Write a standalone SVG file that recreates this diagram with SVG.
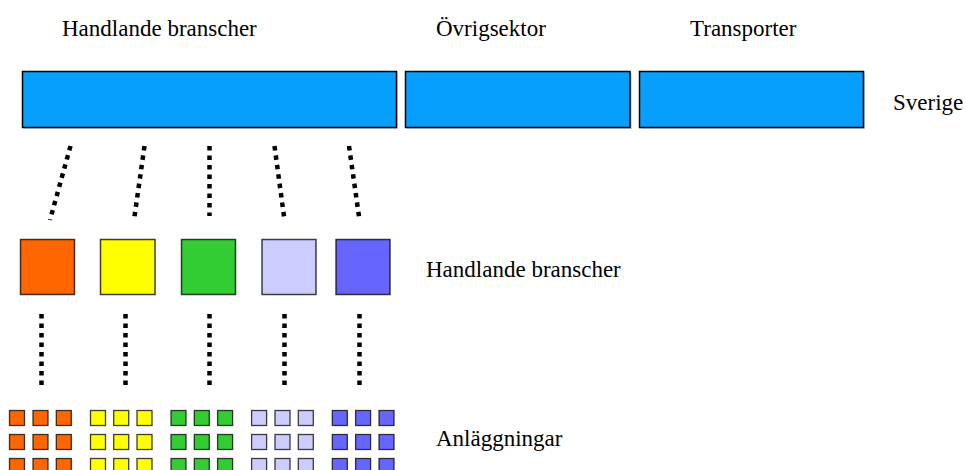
<svg xmlns="http://www.w3.org/2000/svg" width="966" height="470" viewBox="0 0 966 470">
<style>
text{font-family:"Liberation Serif","Times New Roman",serif;font-size:23px;fill:#000}
.big{fill:#079ffe;stroke:#000;stroke-width:1.5}
.sh{fill:#bbb;opacity:0.6}
.sq{stroke:#000;stroke-opacity:0.75;stroke-width:1.5}
.t{stroke:#000;stroke-opacity:0.75;stroke-width:1.3}
.o{fill:#ff6600}.y{fill:#ffff00}.g{fill:#33cc33}.l{fill:#ccccff}.b{fill:#6666ff}
.dot{stroke:#000;stroke-width:4.5;stroke-dasharray:4.5 5;fill:none}
</style>
<g id="labels">
<text x="62" y="36">Handlande branscher</text>
<text x="436" y="36">Övrigsektor</text>
<text x="690" y="36">Transporter</text>
<text x="893" y="110">Sverige</text>
<text x="426" y="277">Handlande branscher</text>
<text x="436" y="446">Anläggningar</text>
</g>
<g id="sverige">
<rect class="sh" x="24" y="73" width="374" height="56"/>
<rect class="big" x="22.5" y="71.5" width="374" height="56"/>
<rect class="sh" x="407" y="73" width="225" height="56"/>
<rect class="big" x="405.5" y="71.5" width="224.5" height="56"/>
<rect class="sh" x="641" y="73" width="224" height="56"/>
<rect class="big" x="639.5" y="71.5" width="224" height="56"/>
</g>
<g id="connectors">
<line class="dot" x1="70.5" y1="146" x2="50" y2="220"/>
<line class="dot" x1="144.5" y1="146" x2="134" y2="220"/>
<line class="dot" x1="209.5" y1="146" x2="209.5" y2="216"/>
<line class="dot" x1="274.5" y1="146" x2="284.5" y2="220"/>
<line class="dot" x1="349" y1="146" x2="359.5" y2="220"/>
<line class="dot" x1="41.5" y1="314" x2="41.5" y2="386"/>
<line class="dot" x1="125.5" y1="314" x2="125.5" y2="386"/>
<line class="dot" x1="209.5" y1="314" x2="209.5" y2="386"/>
<line class="dot" x1="284.5" y1="314" x2="284.5" y2="386"/>
<line class="dot" x1="359.5" y1="314" x2="359.5" y2="386"/>
</g>
<g id="branscher">
<rect class="sq o" x="20.5" y="239.5" width="54" height="55"/>
<rect class="sq y" x="100.5" y="239.5" width="54.5" height="55"/>
<rect class="sq g" x="181.5" y="239.5" width="54" height="55"/>
<rect class="sq l" x="262" y="239.5" width="54" height="55"/>
<rect class="sq b" x="336" y="239.5" width="54" height="55"/>
</g>
<g id="anlaggningar">
<g class="o">
<rect class="t" x="9.5" y="410.5" width="15" height="15"/><rect class="t" x="33" y="410.5" width="15" height="15"/><rect class="t" x="56.3" y="410.5" width="15" height="15"/>
<rect class="t" x="9.5" y="434.5" width="15" height="15"/><rect class="t" x="33" y="434.5" width="15" height="15"/><rect class="t" x="56.3" y="434.5" width="15" height="15"/>
<rect class="t" x="9.5" y="458.5" width="15" height="15"/><rect class="t" x="33" y="458.5" width="15" height="15"/><rect class="t" x="56.3" y="458.5" width="15" height="15"/>
</g>
<g class="y">
<rect class="t" x="90.5" y="410.5" width="15" height="15"/><rect class="t" x="113.7" y="410.5" width="15" height="15"/><rect class="t" x="137" y="410.5" width="15" height="15"/>
<rect class="t" x="90.5" y="434.5" width="15" height="15"/><rect class="t" x="113.7" y="434.5" width="15" height="15"/><rect class="t" x="137" y="434.5" width="15" height="15"/>
<rect class="t" x="90.5" y="458.5" width="15" height="15"/><rect class="t" x="113.7" y="458.5" width="15" height="15"/><rect class="t" x="137" y="458.5" width="15" height="15"/>
</g>
<g class="g">
<rect class="t" x="171" y="410.5" width="15" height="15"/><rect class="t" x="194.3" y="410.5" width="15" height="15"/><rect class="t" x="217.6" y="410.5" width="15" height="15"/>
<rect class="t" x="171" y="434.5" width="15" height="15"/><rect class="t" x="194.3" y="434.5" width="15" height="15"/><rect class="t" x="217.6" y="434.5" width="15" height="15"/>
<rect class="t" x="171" y="458.5" width="15" height="15"/><rect class="t" x="194.3" y="458.5" width="15" height="15"/><rect class="t" x="217.6" y="458.5" width="15" height="15"/>
</g>
<g class="l">
<rect class="t" x="251.6" y="410.5" width="15" height="15"/><rect class="t" x="275" y="410.5" width="15" height="15"/><rect class="t" x="298.3" y="410.5" width="15" height="15"/>
<rect class="t" x="251.6" y="434.5" width="15" height="15"/><rect class="t" x="275" y="434.5" width="15" height="15"/><rect class="t" x="298.3" y="434.5" width="15" height="15"/>
<rect class="t" x="251.6" y="458.5" width="15" height="15"/><rect class="t" x="275" y="458.5" width="15" height="15"/><rect class="t" x="298.3" y="458.5" width="15" height="15"/>
</g>
<g class="b">
<rect class="t" x="332.3" y="410.5" width="15" height="15"/><rect class="t" x="355.6" y="410.5" width="15" height="15"/><rect class="t" x="379" y="410.5" width="15" height="15"/>
<rect class="t" x="332.3" y="434.5" width="15" height="15"/><rect class="t" x="355.6" y="434.5" width="15" height="15"/><rect class="t" x="379" y="434.5" width="15" height="15"/>
<rect class="t" x="332.3" y="458.5" width="15" height="15"/><rect class="t" x="355.6" y="458.5" width="15" height="15"/><rect class="t" x="379" y="458.5" width="15" height="15"/>
</g>
</g>
</svg>
